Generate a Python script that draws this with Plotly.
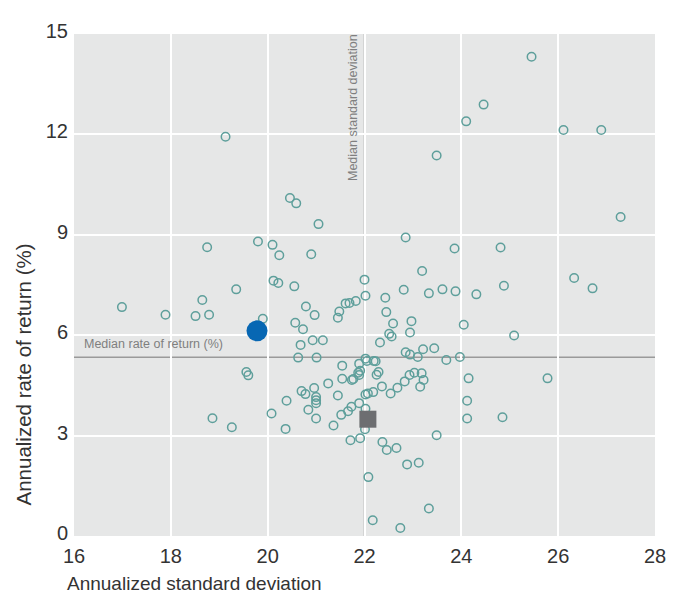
import plotly.graph_objects as go

# Funds: annualized standard deviation (%) and annualized rate of return (%)
fund_std = [
    19.13, 20.46, 20.59, 21.05, 18.75, 19.80, 20.10, 20.24, 20.90, 22.00,
    20.12, 20.22, 20.55, 25.45, 24.46, 24.10, 26.11, 26.89, 23.49, 27.29,
    22.85, 23.86, 24.81, 23.19, 26.33,
    19.35, 22.02, 18.65, 16.99, 17.89, 18.51, 18.79, 20.79, 20.97, 21.48,
    21.45, 21.61, 21.69, 21.82, 19.90, 20.57, 20.73, 22.81, 22.43, 23.33,
    23.61, 23.88, 24.31, 24.88, 26.71, 22.45, 22.97, 22.59, 22.94, 22.51,
    22.56, 24.05, 25.09,
    20.68, 20.93, 21.14, 22.32, 23.21, 23.44, 22.85, 22.94, 23.10, 23.69,
    23.97, 20.63, 21.01, 22.02, 22.05, 22.19, 22.23, 21.54, 21.89,
    19.56, 19.60, 21.91, 21.87, 21.89, 22.29, 22.25, 21.54, 21.77, 21.74,
    21.25, 20.96, 20.70, 20.78, 21.00, 21.00, 21.00, 21.45, 22.02, 22.07,
    22.18, 22.36, 22.54, 22.68, 22.83, 22.93, 23.03, 23.18, 23.22, 23.15,
    24.15, 25.78, 20.39, 24.12,
    20.84, 21.00, 21.36, 21.52, 21.66, 21.73, 21.89, 22.02, 22.01, 21.71,
    21.91, 22.37, 22.46, 22.66, 22.88, 23.12, 22.08, 23.33, 22.17, 22.74,
    18.86, 19.26, 20.08, 20.37, 24.12, 24.85, 23.49,
]
fund_ret = [
    11.93, 10.10, 9.94, 9.32, 8.63, 8.80, 8.70, 8.39, 8.42, 7.66,
    7.63, 7.56, 7.46, 14.32, 12.89, 12.39, 12.13, 12.13, 11.37, 9.53,
    8.92, 8.59, 8.62, 7.92, 7.71,
    7.37, 7.18, 7.05, 6.84, 6.61, 6.57, 6.61, 6.86, 6.60, 6.71,
    6.52, 6.95, 6.96, 7.02, 6.49, 6.37, 6.18, 7.36, 7.12, 7.25,
    7.37, 7.31, 7.22, 7.48, 7.40, 6.69, 6.42, 6.35, 6.08, 6.04,
    5.96, 6.31, 5.99,
    5.71, 5.85, 5.85, 5.78, 5.58, 5.61, 5.49, 5.42, 5.35, 5.26,
    5.35, 5.33, 5.33, 5.30, 5.23, 5.23, 5.22, 5.09, 5.15,
    4.90, 4.80, 4.94, 4.88, 4.81, 4.90, 4.82, 4.70, 4.69, 4.66,
    4.56, 4.42, 4.33, 4.24, 4.15, 4.06, 3.97, 4.20, 4.23, 4.26,
    4.30, 4.47, 4.26, 4.43, 4.62, 4.81, 4.88, 4.86, 4.66, 4.46,
    4.71, 4.71, 4.04, 4.04,
    3.77, 3.51, 3.30, 3.62, 3.73, 3.86, 3.97, 3.80, 3.19, 2.86,
    2.92, 2.81, 2.57, 2.63, 2.14, 2.19, 1.76, 0.82, 0.47, 0.24,
    3.52, 3.25, 3.66, 3.20, 3.51, 3.55, 3.01,
]

highlight_std = [19.78]
highlight_ret = [6.13]
benchmark_std = [22.07]
benchmark_ret = [3.49]

median_std = 22.0
median_ret = 5.34

x_ticks = [16, 18, 20, 22, 24, 26, 28]
y_ticks = [0, 3, 6, 9, 12, 15]

FONT = "Liberation Sans, Arial, sans-serif"

fig = go.Figure()
fig.add_trace(go.Scatter(
    x=fund_std, y=fund_ret, mode="markers",
    marker=dict(symbol="circle-open", size=8.5, color="#5e9f9b", line=dict(width=1.5)),
    hoverinfo="x+y", showlegend=False,
))
fig.add_trace(go.Scatter(
    x=highlight_std, y=highlight_ret, mode="markers",
    marker=dict(symbol="circle", size=21, color="#0767b3"),
    showlegend=False,
))
fig.add_trace(go.Scatter(
    x=benchmark_std, y=benchmark_ret, mode="markers",
    marker=dict(symbol="square", size=17, color="#6d6e71"),
    showlegend=False,
))

fig.add_shape(type="line", xref="x", yref="paper", x0=median_std, x1=median_std, y0=0, y1=1,
              line=dict(color="#9a9a9a", width=1.5), layer="between")
fig.add_shape(type="line", xref="paper", yref="y", x0=0, x1=1, y0=median_ret, y1=median_ret,
              line=dict(color="#9a9a9a", width=1.5), layer="between")

fig.add_annotation(text="Median standard deviation", x=median_std, xref="x", y=1, yref="paper",
                   textangle=-90, xanchor="right", yanchor="top", xshift=-3, yshift=2,
                   showarrow=False, font=dict(family=FONT, size=12.5, color="#7f7f7f"))
fig.add_annotation(text="Median rate of return (%)", x=0, xref="paper", y=median_ret, yref="y",
                   xanchor="left", yanchor="bottom", xshift=8, yshift=4,
                   showarrow=False, font=dict(family=FONT, size=12.5, color="#7f7f7f"))
fig.add_annotation(text="Annualized standard deviation", x=0, xref="paper", y=0, yref="paper",
                   xanchor="left", yanchor="top", xshift=-9, yshift=-35,
                   showarrow=False, font=dict(family=FONT, size=19, color="#333333"))
fig.add_annotation(text="Annualized rate of return (%)", x=0, xref="paper", y=0, yref="paper",
                   textangle=-90, xanchor="right", yanchor="bottom", xshift=-38, yshift=28,
                   showarrow=False, font=dict(family=FONT, size=20.5, color="#333333"))

# page body has an 8px margin, so the figure is 8px smaller than the window
fig.update_layout(
    width=673, height=591,
    margin=dict(l=66, r=26, t=15, b=63),
    paper_bgcolor="white", plot_bgcolor="#e6e7e7",
    font=dict(family=FONT, size=20, color="#333333"),
    hovermode="closest",
)
fig.update_xaxes(range=[16, 28], tickvals=x_ticks, showgrid=True, gridcolor="white", gridwidth=1.5,
                 zeroline=False, showline=False, ticks="", ticklabelstandoff=6,
                 tickfont=dict(family=FONT, size=20, color="#333333"))
fig.update_yaxes(range=[0, 15], tickvals=y_ticks, showgrid=True, gridcolor="white", gridwidth=1.5,
                 zeroline=False, showline=False, ticks="", ticklabelstandoff=5, ticklabelshift=-3,
                 tickfont=dict(family=FONT, size=20, color="#333333"))

fig.write_html("out.html")
